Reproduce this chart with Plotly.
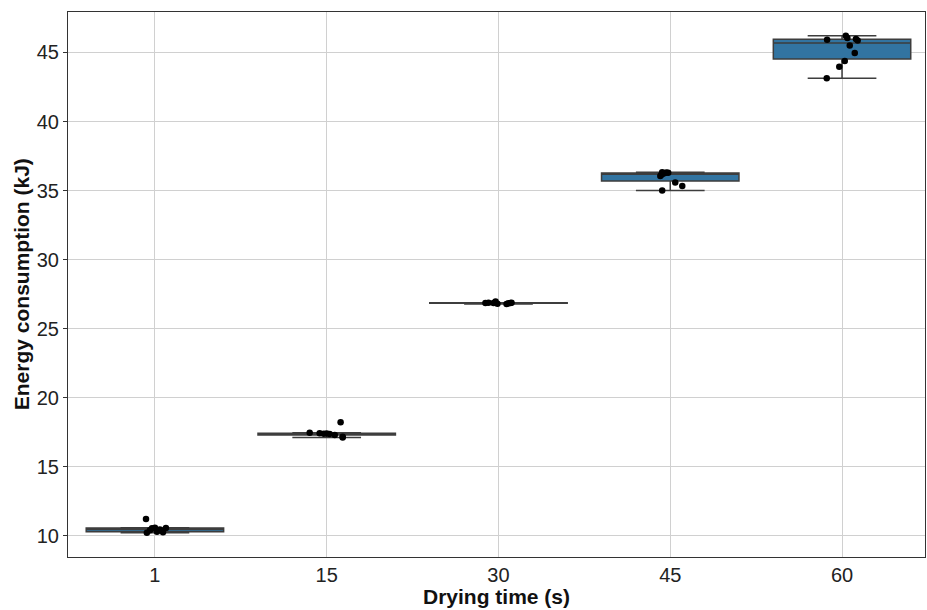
import numpy as np
import plotly.graph_objects as go

# Drying time groups (s) and measured energy consumption (kJ)
drying_times = ["1", "15", "30", "45", "60"]

energy_1 = [11.21, 10.22, 10.54, 10.58, 10.29, 10.26, 10.56, 10.45, 10.40]
energy_15 = [17.46, 17.43, 17.41, 17.30, 17.16, 17.12, 18.22, 17.38, 17.36]
energy_30 = [26.86, 26.87, 26.85, 26.96, 26.80, 26.79, 26.83, 26.88, 26.85]
energy_45 = [36.33, 36.30, 36.28, 36.25, 36.20, 36.15, 36.05, 35.58, 35.32, 35.00]
energy_60 = [45.92, 46.21, 46.04, 45.97, 45.87, 45.51, 44.96, 44.38, 43.96, 43.14]

groups = [energy_1, energy_15, energy_30, energy_45, energy_60]

# horizontal strip-plot jitter for each point (fraction of category spacing)
strip_offsets = [
    [-0.052, -0.047, -0.017, 0.0, 0.012, 0.047, 0.064, 0.029, -0.029],
    [-0.099, -0.041, 0.0, 0.047, 0.093, 0.093, 0.081, -0.017, 0.017],
    [-0.076, -0.058, -0.029, -0.017, -0.006, 0.047, 0.058, 0.076, 0.070],
    [-0.047, -0.023, -0.012, -0.035, -0.047, -0.052, -0.058, 0.029, 0.070, -0.047],
    [-0.087, 0.022, 0.031, 0.081, 0.091, 0.045, 0.074, 0.016, -0.016, -0.089],
]

BOX_FILL = "#3274a1"
EDGE = "#3d3d3d"
FONT = "Arial, Liberation Sans, sans-serif"

fig = go.Figure()

for i, vals in enumerate(groups):
    v = np.asarray(vals, dtype=float)
    q1, med, q3 = np.percentile(v, [25, 50, 75])
    iqr = q3 - q1
    lo = v[v >= q1 - 1.5 * iqr].min()
    hi = v[v <= q3 + 1.5 * iqr].max()
    fig.add_trace(go.Box(
        x=[i], q1=[q1], median=[med], q3=[q3],
        lowerfence=[lo], upperfence=[hi],
        width=0.8, whiskerwidth=0.5,
        fillcolor=BOX_FILL,
        line=dict(color=EDGE, width=1.5),
        boxpoints=False, showlegend=False, hoverinfo="skip",
    ))

for i, (vals, offs) in enumerate(zip(groups, strip_offsets)):
    fig.add_trace(go.Scatter(
        x=[i + o for o in offs], y=vals, mode="markers",
        marker=dict(color="black", size=6.5),
        showlegend=False,
    ))

axis_common = dict(
    showgrid=True, gridcolor="#d0d0d0", gridwidth=1,
    showline=True, linecolor="#333333", linewidth=1.2, mirror=True,
    tickcolor="#333333",
    tickfont=dict(family=FONT, size=20, color="#222222"),
    zeroline=False,
)

fig.update_layout(
    width=927, height=610,
    margin=dict(l=68, r=2, t=12, b=53),
    paper_bgcolor="white", plot_bgcolor="white",
    xaxis=dict(
        **axis_common,
        ticks="",
        range=[-0.506, 4.483],
        tickmode="array", tickvals=list(range(len(drying_times))), ticktext=drying_times,
    ),
    yaxis=dict(
        **axis_common,
        ticks="outside", ticklen=4,
        range=[8.46, 47.93],
        tickmode="array", tickvals=[10, 15, 20, 25, 30, 35, 40, 45],
    ),
    annotations=[
        dict(text="<b>Drying time (s)</b>", xref="paper", yref="paper",
             x=0.5, y=-0.072, xanchor="center", yanchor="middle", showarrow=False,
             font=dict(family=FONT, size=21, color="#111111")),
        dict(text="<b>Energy consumption (kJ)</b>", xref="paper", yref="paper",
             x=-0.054, y=0.5, xanchor="center", yanchor="middle", textangle=-90,
             showarrow=False, font=dict(family=FONT, size=21, color="#111111")),
    ],
)

fig.write_html("out.html")
